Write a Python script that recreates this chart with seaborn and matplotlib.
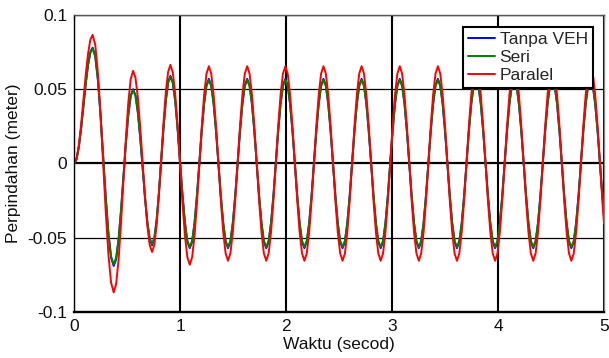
import numpy as np
import pandas as pd
import matplotlib
matplotlib.use("Agg")
import matplotlib.pyplot as plt
import seaborn as sns

# ---- data ----
series_names = ["Tanpa VEH", "Seri", "Paralel"]
series_colors = ["#0000ff", "#008000", "#ff0000"]

xticks = [0, 1, 2, 3, 4, 5]
xtick_labels = ["0", "1", "2", "3", "4", "5"]
yticks = [-0.1, -0.05, 0, 0.05, 0.1]
ytick_labels = ["-0.1", "-0.05", "0", "0.05", "0.1"]

time_s = [
    0.0,
    0.0216, 0.0433, 0.0649, 0.0865, 0.1081, 0.1298, 0.1514, 0.173,
    0.1979, 0.2228, 0.2476, 0.2725, 0.2974, 0.3223, 0.3471, 0.372,
    0.3949, 0.4178, 0.4406, 0.4635, 0.4864, 0.5093, 0.5321, 0.555,
    0.5774, 0.5998, 0.6221, 0.6445, 0.6669, 0.6893, 0.7116, 0.734,
    0.7556, 0.7773, 0.7989, 0.8205, 0.8421, 0.8638, 0.8854, 0.907,
    0.9299, 0.9528, 0.9756, 0.9985, 1.0214, 1.0443, 1.0671, 1.090,
    1.1125, 1.135, 1.1575, 1.18, 1.2025, 1.225, 1.2475, 1.270,
    1.2926, 1.3153, 1.3379, 1.3605, 1.3831, 1.4058, 1.4284, 1.451,
    1.4736, 1.4963, 1.5189, 1.5415, 1.5641, 1.5868, 1.6094, 1.632,
    1.6545, 1.677, 1.6995, 1.722, 1.7445, 1.767, 1.7895, 1.812,
    1.8345, 1.857, 1.8795, 1.902, 1.9245, 1.947, 1.9695, 1.992,
    2.0145, 2.037, 2.0595, 2.082, 2.1045, 2.127, 2.1495, 2.172,
    2.1945, 2.217, 2.2395, 2.262, 2.2845, 2.307, 2.3295, 2.352,
    2.3745, 2.397, 2.4195, 2.442, 2.4645, 2.487, 2.5095, 2.532,
    2.5545, 2.577, 2.5995, 2.622, 2.6445, 2.667, 2.6895, 2.712,
    2.7345, 2.757, 2.7795, 2.802, 2.8245, 2.847, 2.8695, 2.892,
    2.9145, 2.937, 2.9595, 2.982, 3.0045, 3.027, 3.0495, 3.072,
    3.0945, 3.117, 3.1395, 3.162, 3.1845, 3.207, 3.2295, 3.252,
    3.2745, 3.297, 3.3195, 3.342, 3.3645, 3.387, 3.4095, 3.432,
    3.4545, 3.477, 3.4995, 3.522, 3.5445, 3.567, 3.5895, 3.612,
    3.6345, 3.657, 3.6795, 3.702, 3.7245, 3.747, 3.7695, 3.792,
    3.8145, 3.837, 3.8595, 3.882, 3.9045, 3.927, 3.9495, 3.972,
    3.9945, 4.017, 4.0395, 4.062, 4.0845, 4.107, 4.1295, 4.152,
    4.1745, 4.197, 4.2195, 4.242, 4.2645, 4.287, 4.3095, 4.332,
    4.3545, 4.377, 4.3995, 4.422, 4.4445, 4.467, 4.4895, 4.512,
    4.5345, 4.557, 4.5795, 4.602, 4.6245, 4.647, 4.6695, 4.692,
    4.7145, 4.737, 4.7595, 4.782, 4.8045, 4.827, 4.8495, 4.872,
    4.8945, 4.917, 4.9395, 4.962, 4.9845, 5.0,
]

tanpa_veh = [
    0.0,
    0.0030, 0.0114, 0.0241, 0.0390, 0.0539, 0.0666, 0.0750, 0.0780,
    0.0724, 0.0565, 0.0326, 0.0045, -0.0236, -0.0475, -0.0634, -0.0690,
    -0.0645, -0.0516, -0.0323, -0.0095, 0.0133, 0.0326, 0.0455, 0.0500,
    0.0460, 0.0346, 0.0176, -0.0025, -0.0226, -0.0396, -0.0510, -0.0550,
    -0.0507, -0.0383, -0.0198, 0.0020, 0.0238, 0.0423, 0.0547, 0.0590,
    0.0546, 0.0420, 0.0232, 0.0010, -0.0212, -0.0400, -0.0526, -0.0570,
    -0.0527, -0.0403, -0.0218, 0.0, 0.0218, 0.0403, 0.0527, 0.0570,
    0.0527, 0.0403, 0.0218, 0.0, -0.0218, -0.0403, -0.0527, -0.0570,
    -0.0527, -0.0403, -0.0218, 0.0, 0.0218, 0.0403, 0.0527, 0.0570,
    0.0527, 0.0403, 0.0218, 0.0, -0.0218, -0.0403, -0.0527, -0.0570,
    -0.0527, -0.0403, -0.0218, 0.0, 0.0218, 0.0403, 0.0527, 0.0570,
    0.0527, 0.0403, 0.0218, 0.0, -0.0218, -0.0403, -0.0527, -0.0570,
    -0.0527, -0.0403, -0.0218, 0.0, 0.0218, 0.0403, 0.0527, 0.0570,
    0.0527, 0.0403, 0.0218, 0.0, -0.0218, -0.0403, -0.0527, -0.0570,
    -0.0527, -0.0403, -0.0218, 0.0, 0.0218, 0.0403, 0.0527, 0.0570,
    0.0527, 0.0403, 0.0218, 0.0, -0.0218, -0.0403, -0.0527, -0.0570,
    -0.0527, -0.0403, -0.0218, 0.0, 0.0218, 0.0403, 0.0527, 0.0570,
    0.0527, 0.0403, 0.0218, 0.0, -0.0218, -0.0403, -0.0527, -0.0570,
    -0.0527, -0.0403, -0.0218, 0.0, 0.0218, 0.0403, 0.0527, 0.0570,
    0.0527, 0.0403, 0.0218, 0.0, -0.0218, -0.0403, -0.0527, -0.0570,
    -0.0527, -0.0403, -0.0218, 0.0, 0.0218, 0.0403, 0.0527, 0.0570,
    0.0527, 0.0403, 0.0218, 0.0, -0.0218, -0.0403, -0.0527, -0.0570,
    -0.0527, -0.0403, -0.0218, 0.0, 0.0218, 0.0403, 0.0527, 0.0570,
    0.0527, 0.0403, 0.0218, 0.0, -0.0218, -0.0403, -0.0527, -0.0570,
    -0.0527, -0.0403, -0.0218, 0.0, 0.0218, 0.0403, 0.0527, 0.0570,
    0.0527, 0.0403, 0.0218, 0.0, -0.0218, -0.0403, -0.0527, -0.0570,
    -0.0527, -0.0403, -0.0218, 0.0, 0.0218, 0.0403, 0.0527, 0.0570,
    0.0527, 0.0403, 0.0218, 0.0, -0.0218, -0.0351,
]

seri = [
    0.0,
    0.0029, 0.0114, 0.0239, 0.0388, 0.0536, 0.0662, 0.0745, 0.0775,
    0.0720, 0.0562, 0.0326, 0.0048, -0.0231, -0.0467, -0.0625, -0.0680,
    -0.0635, -0.0508, -0.0317, -0.0093, 0.0132, 0.0323, 0.0450, 0.0495,
    0.0456, 0.0343, 0.0175, -0.0024, -0.0222, -0.0390, -0.0503, -0.0542,
    -0.0499, -0.0377, -0.0194, 0.0022, 0.0237, 0.0420, 0.0542, 0.0585,
    0.0541, 0.0417, 0.0231, 0.0011, -0.0209, -0.0395, -0.0519, -0.0563,
    -0.0520, -0.0398, -0.0215, 0.0, 0.0215, 0.0398, 0.0520, 0.0563,
    0.0520, 0.0398, 0.0215, 0.0, -0.0215, -0.0398, -0.0520, -0.0563,
    -0.0520, -0.0398, -0.0215, 0.0, 0.0215, 0.0398, 0.0520, 0.0563,
    0.0520, 0.0398, 0.0215, 0.0, -0.0215, -0.0398, -0.0520, -0.0563,
    -0.0520, -0.0398, -0.0215, 0.0, 0.0215, 0.0398, 0.0520, 0.0563,
    0.0520, 0.0398, 0.0215, 0.0, -0.0215, -0.0398, -0.0520, -0.0563,
    -0.0520, -0.0398, -0.0215, 0.0, 0.0215, 0.0398, 0.0520, 0.0563,
    0.0520, 0.0398, 0.0215, 0.0, -0.0215, -0.0398, -0.0520, -0.0563,
    -0.0520, -0.0398, -0.0215, 0.0, 0.0215, 0.0398, 0.0520, 0.0563,
    0.0520, 0.0398, 0.0215, 0.0, -0.0215, -0.0398, -0.0520, -0.0563,
    -0.0520, -0.0398, -0.0215, 0.0, 0.0215, 0.0398, 0.0520, 0.0563,
    0.0520, 0.0398, 0.0215, 0.0, -0.0215, -0.0398, -0.0520, -0.0563,
    -0.0520, -0.0398, -0.0215, 0.0, 0.0215, 0.0398, 0.0520, 0.0563,
    0.0520, 0.0398, 0.0215, 0.0, -0.0215, -0.0398, -0.0520, -0.0563,
    -0.0520, -0.0398, -0.0215, 0.0, 0.0215, 0.0398, 0.0520, 0.0563,
    0.0520, 0.0398, 0.0215, 0.0, -0.0215, -0.0398, -0.0520, -0.0563,
    -0.0520, -0.0398, -0.0215, 0.0, 0.0215, 0.0398, 0.0520, 0.0563,
    0.0520, 0.0398, 0.0215, 0.0, -0.0215, -0.0398, -0.0520, -0.0563,
    -0.0520, -0.0398, -0.0215, 0.0, 0.0215, 0.0398, 0.0520, 0.0563,
    0.0520, 0.0398, 0.0215, 0.0, -0.0215, -0.0398, -0.0520, -0.0563,
    -0.0520, -0.0398, -0.0215, 0.0, 0.0215, 0.0398, 0.0520, 0.0563,
    0.0520, 0.0398, 0.0215, 0.0, -0.0215, -0.0347,
]

paralel = [
    0.0,
    0.0033, 0.0127, 0.0267, 0.0433, 0.0599, 0.0739, 0.0833, 0.0866,
    0.0800, 0.0612, 0.0331, -0.0001, -0.0333, -0.0614, -0.0802, -0.0868,
    -0.0811, -0.0650, -0.0408, -0.0122, 0.0164, 0.0406, 0.0567, 0.0624,
    0.0578, 0.0445, 0.0247, 0.0014, -0.0219, -0.0417, -0.0550, -0.0596,
    -0.0548, -0.0412, -0.0207, 0.0034, 0.0275, 0.0480, 0.0616, 0.0664,
    0.0613, 0.0467, 0.0249, -0.0009, -0.0267, -0.0485, -0.0631, -0.0682,
    -0.0631, -0.0486, -0.0269, -0.0014, 0.0242, 0.0459, 0.0604, 0.0655,
    0.0605, 0.0463, 0.0251, 0.0, -0.0251, -0.0463, -0.0605, -0.0655,
    -0.0605, -0.0463, -0.0251, 0.0, 0.0251, 0.0463, 0.0605, 0.0655,
    0.0605, 0.0463, 0.0251, 0.0, -0.0251, -0.0463, -0.0605, -0.0655,
    -0.0605, -0.0463, -0.0251, 0.0, 0.0251, 0.0463, 0.0605, 0.0655,
    0.0605, 0.0463, 0.0251, 0.0, -0.0251, -0.0463, -0.0605, -0.0655,
    -0.0605, -0.0463, -0.0251, 0.0, 0.0251, 0.0463, 0.0605, 0.0655,
    0.0605, 0.0463, 0.0251, 0.0, -0.0251, -0.0463, -0.0605, -0.0655,
    -0.0605, -0.0463, -0.0251, 0.0, 0.0251, 0.0463, 0.0605, 0.0655,
    0.0605, 0.0463, 0.0251, 0.0, -0.0251, -0.0463, -0.0605, -0.0655,
    -0.0605, -0.0463, -0.0251, 0.0, 0.0251, 0.0463, 0.0605, 0.0655,
    0.0605, 0.0463, 0.0251, 0.0, -0.0251, -0.0463, -0.0605, -0.0655,
    -0.0605, -0.0463, -0.0251, 0.0, 0.0251, 0.0463, 0.0605, 0.0655,
    0.0605, 0.0463, 0.0251, 0.0, -0.0251, -0.0463, -0.0605, -0.0655,
    -0.0605, -0.0463, -0.0251, 0.0, 0.0251, 0.0463, 0.0605, 0.0655,
    0.0605, 0.0463, 0.0251, 0.0, -0.0251, -0.0463, -0.0605, -0.0655,
    -0.0605, -0.0463, -0.0251, 0.0, 0.0251, 0.0463, 0.0605, 0.0655,
    0.0605, 0.0463, 0.0251, 0.0, -0.0251, -0.0463, -0.0605, -0.0655,
    -0.0605, -0.0463, -0.0251, 0.0, 0.0251, 0.0463, 0.0605, 0.0655,
    0.0605, 0.0463, 0.0251, 0.0, -0.0251, -0.0463, -0.0605, -0.0655,
    -0.0605, -0.0463, -0.0251, 0.0, 0.0251, 0.0463, 0.0605, 0.0655,
    0.0605, 0.0463, 0.0251, 0.0, -0.0251, -0.0403,
]

# ---- build long-form table ----
frames = []
for name, vals in zip(series_names, [tanpa_veh, seri, paralel]):
    frames.append(pd.DataFrame({"Waktu": time_s, "Perpindahan": vals, "Seri_": name}))
df = pd.concat(frames, ignore_index=True)

sns.set_theme(style="white")
plt.rcParams["font.family"] = ["Liberation Sans", "DejaVu Sans"]

fig = plt.figure(figsize=(6.09, 3.58), dpi=100)
ax = fig.add_axes([0.1220, 0.1285, 0.8698, 0.8296])

sns.lineplot(data=df, x="Waktu", y="Perpindahan", hue="Seri_",
             hue_order=series_names, palette=series_colors,
             estimator=None, sort=False, linewidth=1.4, ax=ax)

ax.set_xlim(0, 5)
ax.set_ylim(-0.1, 0.1)
ax.set_xticks(xticks)
ax.set_xticklabels(xtick_labels)
ax.set_yticks(yticks)
ax.set_yticklabels(ytick_labels)

ax.set_axisbelow(True)
ax.grid(True, axis="x", color="black", linewidth=1.5)
ax.grid(True, axis="y", color="black", linewidth=0.9)
for gl, tv in zip(ax.get_ygridlines(), yticks):
    if tv == 0:
        gl.set_linewidth(1.6)

ax.tick_params(axis="both", direction="in", length=3, width=0.8,
               colors="black", labelsize=12.5, pad=5, top=True, right=True)
for lab in ax.get_xticklabels() + ax.get_yticklabels():
    lab.set_color("#111111")

ax.spines["bottom"].set_linewidth(1.7)
ax.spines["bottom"].set_color("black")
ax.spines["left"].set_linewidth(1.0)
ax.spines["left"].set_color("black")
ax.spines["top"].set_linewidth(1.0)
ax.spines["top"].set_color("#555555")
ax.spines["right"].set_linewidth(1.0)
ax.spines["right"].set_color("#888888")

ax.set_xlabel("Waktu (secod)", fontsize=12.5, labelpad=2, color="#111111")
ax.set_ylabel("Perpindahan (meter)", fontsize=12.5, labelpad=5, color="#111111")

old = ax.get_legend()
handles = old.legend_handles
labels = [t.get_text() for t in old.get_texts()]
for h in handles:
    h.set_linewidth(1.4)
leg = ax.legend(handles, labels, loc="upper right", bbox_to_anchor=(0.979, 0.9596),
                borderaxespad=0, fontsize=12.5, frameon=True, fancybox=False,
                edgecolor="black", framealpha=1, handlelength=1.55,
                handletextpad=0.25, labelspacing=0.15, borderpad=0.3)
leg.get_frame().set_linewidth(1.5)

fig.savefig("out.png", dpi=100)
